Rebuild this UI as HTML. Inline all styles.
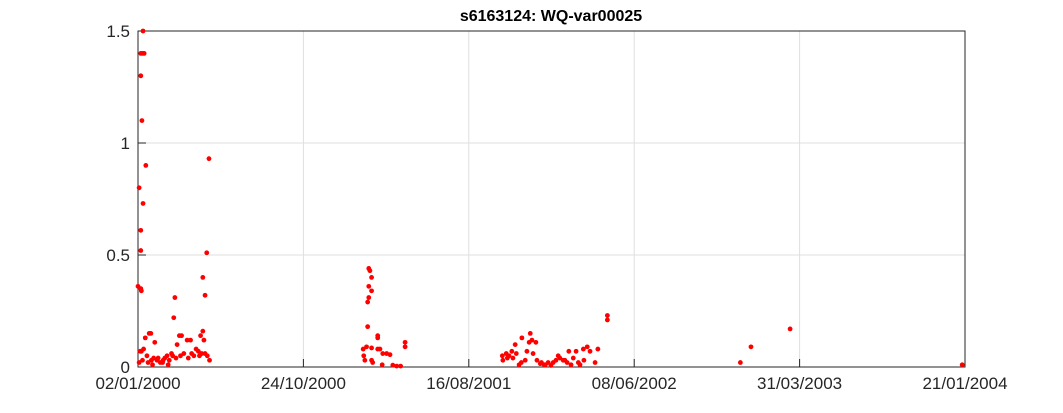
<!DOCTYPE html>
<html><head><meta charset="utf-8"><style>
body{margin:0;background:#fff;}
svg{display:block;font-family:"Liberation Sans",sans-serif;}
</style></head><body>
<svg id="chart" width="1063" height="413">
<rect width="1063" height="413" fill="#fff"/>
<text x="551" y="21" text-anchor="middle" font-size="16" font-weight="bold" fill="#000">s6163124: WQ-var00025</text>
<g id="grid"></g>
<g id="axes"></g>
<g id="pts"></g>
</svg>
<script>
const xTickDays=[0,296,592,888,1184,1480];
const xTickLabels=["02/01/2000","24/10/2000","16/08/2001","08/06/2002","31/03/2003","21/01/2004"];
const yTicks=[0,0.5,1,1.5];
const yTickLabels=["0","0.5","1","1.5"];
const days=[9,5,8,11,5,7,14,127,2,9,5,5,123,0,5,6,66,116,120,64,
13,20,23,30,36,45,52,60,70,74,78,88,94,112,118,116,4,6,10,2,8,16,24,28,34,40,48,56,62,68,76,82,90,96,100,104,108,110,114,120,124,128,18,26,44,54,
413,415,418,413,418,413,411,411,403,409,418,404,406,418,420,429,429,429,433,438,445,451,437,456,463,470,478,478,
652,653,659,661,664,669,671,675,677,682,686,687,693,696,700,702,705,707,712,714,720,722,727,729,734,739,743,748,752,755,761,764,768,771,775,779,784,788,791,797,798,804,809,818,823,840,840,
1078,1097,1167,1475];
const values=[1.5,1.4,1.4,1.4,1.3,1.1,0.9,0.93,0.8,0.73,0.61,0.52,0.51,0.36,0.35,0.34,0.31,0.40,0.32,0.22,
0.13,0.15,0.15,0.11,0.04,0.03,0.05,0.06,0.1,0.14,0.14,0.12,0.12,0.14,0.12,0.16,0.07,0.07,0.08,0.02,0.03,0.05,0.03,0.04,0.03,0.02,0.04,0.03,0.05,0.04,0.05,0.06,0.04,0.06,0.05,0.08,0.07,0.05,0.06,0.06,0.05,0.03,0.02,0.01,0.02,0.01,
0.44,0.43,0.40,0.36,0.34,0.31,0.29,0.18,0.08,0.09,0.085,0.05,0.03,0.03,0.02,0.08,0.14,0.13,0.08,0.06,0.06,0.055,0.01,0.008,0.004,0.004,0.11,0.09,
0.05,0.03,0.06,0.04,0.05,0.07,0.04,0.10,0.06,0.01,0.02,0.13,0.03,0.07,0.11,0.15,0.12,0.06,0.11,0.03,0.015,0.02,0.01,0.01,0.02,0.007,0.02,0.03,0.05,0.04,0.03,0.03,0.02,0.07,0.01,0.04,0.07,0.02,0.01,0.08,0.03,0.09,0.07,0.02,0.08,0.23,0.21,
0.02,0.09,0.17,0.01];
const L=138,R=965,T=31,B=367;
const xS=d=>L+(d-0)/(1480-0)*(R-L);
const yS=v=>B-(v-0)/(1.5-0)*(B-T);
const NS="http://www.w3.org/2000/svg";
function mk(tag,attrs,parent){const e=document.createElementNS(NS,tag);for(const k in attrs)e.setAttribute(k,attrs[k]);parent.appendChild(e);return e;}
const grid=document.getElementById('grid'),axes=document.getElementById('axes'),pts=document.getElementById('pts');
xTickDays.forEach((d,i)=>{
 const x=xS(d);
 const g=mk('line',{x1:x,x2:x,y1:T,y2:B,stroke:'#dfdfdf','stroke-width':1},grid);
 
 
 const tk=mk('line',{x1:x,x2:x,y1:B,y2:B-8,stroke:'#262626','stroke-width':1},axes);
 
 
 const t=mk('text',{x:x,y:B+22,'text-anchor':'middle','font-size':17,fill:'#262626'},axes);
 t.textContent=xTickLabels[i];
 
 
});
yTicks.forEach((v,i)=>{
 const y=yS(v);
 const g=mk('line',{x1:L,x2:R,y1:y,y2:y,stroke:'#dfdfdf','stroke-width':1},grid);
 
 
 const tk=mk('line',{x1:L,x2:L+8,y1:y,y2:y,stroke:'#262626','stroke-width':1},axes);
 
 
 const t=mk('text',{x:L-8,y:y+6,'text-anchor':'end','font-size':17,fill:'#262626'},axes);
 t.textContent=yTickLabels[i];
 
 
});
const box=mk('rect',{x:L,y:T,width:R-L,height:B-T,fill:'none',stroke:'#262626','stroke-width':1},axes);


days.forEach((d,i)=>{
 const c=mk('circle',{cx:xS(d),cy:yS(values[i]),r:2.4,fill:'#ff0000'},pts);
 
 
});
</script>
</body></html>
